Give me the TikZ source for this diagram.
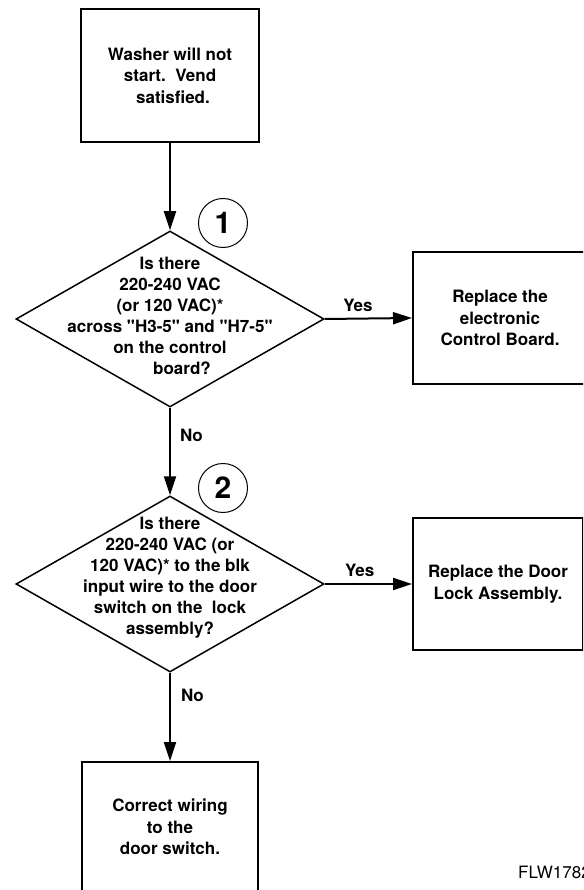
\documentclass[tikz,border=0pt]{standalone}
\usepackage{fontspec}
\setmainfont{TeX Gyre Heros}
\usetikzlibrary{arrows.meta,shapes.geometric}

\begin{document}
\begin{tikzpicture}[x=1pt, y=-1pt,
    box/.style={draw, line width=2pt, align=center, inner sep=0pt,
        font=\bfseries\fontsize{17}{21.5}\selectfont},
    decision/.style={draw, diamond, line width=1.5pt, inner sep=0pt,
        minimum width=308pt, minimum height=176pt},
    qtext/.style={align=center, inner sep=0pt,
        font=\bfseries\fontsize{17}{21}\selectfont},
    stepnum/.style={draw, circle, line width=1pt, minimum size=49pt, inner sep=0pt,
        font=\bfseries\fontsize{30}{30}\selectfont},
    flow/.style={line width=2pt, -{Triangle[length=19pt,width=12pt]}},
    answer/.style={inner sep=0pt, font=\bfseries\fontsize{17}{17}\selectfont}]

\clip (0,0) rectangle (583,890);

% boxes
\node[box, minimum width=178pt, minimum height=133pt] (start) at (170,75.5)
    {Washer will not\\start.\ \ Vend\\\hspace*{6pt}satisfied.};
\node[box, minimum width=174pt, minimum height=132pt] (board) at (500,318)
    {Replace the\\electronic\\Control Board.};
\node[box, minimum width=170pt, minimum height=132pt] (lock) at (498,584)
    {Replace the Door\\Lock Assembly.};
\node[box, minimum width=176pt, minimum height=130pt] (wiring) at (170,827)
    {Correct wiring\\to the\\door switch.};

% questions
\node[decision] (q1) at (170,319) {};
\node[qtext] (q1t) at ([yshift=3pt]q1)
    {Is there\\220-240 VAC\\(or 120 VAC)*\\across \textquotedbl H3-5\textquotedbl{} and \textquotedbl H7-5\textquotedbl\\on the control\\\hspace*{24pt}board?};
\node[decision] (q2) at (170,584) {};
\node[qtext] (q2t) at ([yshift=6pt]q2)
    {Is there\\220-240 VAC (or\\120 VAC)* to the blk\\input wire to the door\\switch on the\ \ lock\\assembly?};

\node[stepnum] (n1) at (223,223) {1};
\node[stepnum] (n2) at (223,488) {2};

% connectors
\draw[flow] (start) -- (q1);
\draw[flow] (q1.east) -- node[answer, pos=0.38, above=6pt] {Yes} (board.west);
\draw[flow] (q1.south) -- node[answer, pos=0.32, right=9pt] {No} (q2.north);
\draw[flow] (q2.east) -- node[answer, pos=0.40, above=6pt] {Yes} (lock.west);
\draw[flow] (q2.south) -- node[answer, pos=0.26, right=10pt] {No} (wiring.north);

\node[anchor=west, inner sep=0pt, font=\fontsize{17}{17}\selectfont] (fig) at (518,872) {FLW1782};

\end{tikzpicture}
\end{document}
